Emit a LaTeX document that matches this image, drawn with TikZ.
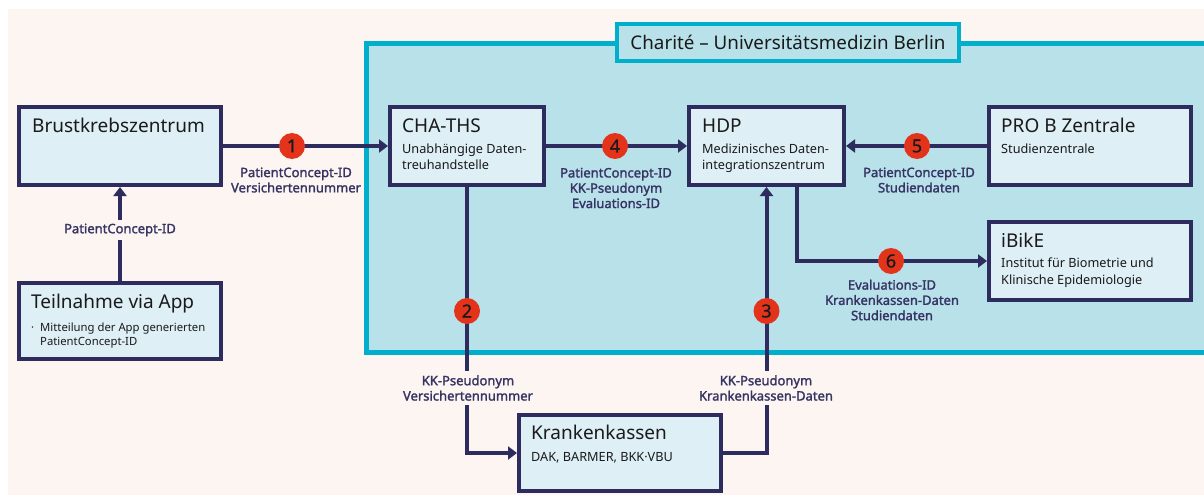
\documentclass[tikz,border=0pt]{standalone}
\usepackage{fontspec}
\setmainfont{Noto Sans}
\newfontfamily\lblfont{Noto Sans}[FakeBold=1.8]
\newfontfamily\numfont{Noto Sans}[FakeBold=0.8]
\usetikzlibrary{arrows.meta}
\definecolor{bgpink}{HTML}{FDF5F2}
\definecolor{chfill}{HTML}{B9E1EA}
\definecolor{chcyan}{HTML}{00AFCB}
\definecolor{boxfill}{HTML}{DEEFF6}
\definecolor{navy}{HTML}{2E2C5E}
\definecolor{navytext}{HTML}{363463}
\definecolor{badgered}{HTML}{E3341B}
\definecolor{ink}{HTML}{1A1A1A}
\begin{document}
\begin{tikzpicture}[x=1pt,y=-1pt,
  box/.style={draw=navy, line width=4pt, fill=boxfill, inner sep=0pt},
  ttl/.style={anchor=base west, inner sep=0pt, text=ink, font=\fontsize{19}{19}\selectfont},
  sub/.style={anchor=base west, inner sep=0pt, text=ink, font=\fontsize{12.7}{12.7}\selectfont},
  small/.style={anchor=base west, inner sep=0pt, text=ink, font=\fontsize{11.3}{11.3}\selectfont},
  conn/.style={draw=navy, line width=4pt},
  arr/.style={conn, -{Triangle[length=9pt,width=13pt]}},
  badge/.style={circle, fill=badgered, minimum size=26pt, inner sep=0pt, text=ink, font=\numfont\fontsize{18}{18}\selectfont},
  lbl/.style={text=navytext, align=center, inner sep=0pt, font=\lblfont\fontsize{13}{15.3}\selectfont},
  lblbg/.style={lbl, fill=bgpink, inner xsep=3pt, inner ysep=4pt}
]
\useasboundingbox (0,0) rectangle (1204,495);
\clip (0,0) rectangle (1204,495);
\fill[bgpink] (8,9) rectangle (1204,495);
% Charite region
\draw[draw=chcyan, fill=chfill, line width=5pt] (366,44) rectangle (1230,352);
\node[draw=chcyan, fill=chfill, line width=4pt, minimum width=342pt, minimum height=37pt, inner sep=0pt, text=ink, font=\fontsize{18.8}{18.8}\selectfont] (charite) at (788,42.5) {Charité -- Universitätsmedizin Berlin};

% boxes
\node[box, minimum width=202pt, minimum height=78pt] (bk) at (120,146) {};
\node[box, minimum width=202pt, minimum height=76pt] (app) at (120,321) {};
\node[box, minimum width=154pt, minimum height=78pt] (ths) at (467,146) {};
\node[box, minimum width=155pt, minimum height=78pt] (hdp) at (766.5,146) {};
\node[box, minimum width=202pt, minimum height=78pt] (prob) at (1090,146) {};
\node[box, minimum width=202pt, minimum height=78pt] (ibike) at (1090,261) {};
\node[box, minimum width=202pt, minimum height=76pt] (kk) at (620,453) {};

% box texts
\node[ttl] (bkT) at (32,132) {Brustkrebszentrum};
\node[ttl] (appT) at (31,308) {Teilnahme via App};
\node[small] (appB) at (31,331) {·};
\node[small] (appS1) at (40,331) {Mitteilung der App generierten};
\node[small] (appS2) at (40,345) {PatientConcept-ID};
\node[ttl] (thsT) at (402,132) {CHA-THS};
\node[sub] (thsS1) at (402,153) {Unabhängige Daten-};
\node[sub] (thsS2) at (402,169) {treuhandstelle};
\node[ttl] (hdpT) at (702,132) {HDP};
\node[sub] (hdpS1) at (702,153) {Medizinisches Daten-};
\node[sub] (hdpS2) at (702,169) {integrationszentrum};
\node[ttl] (probT) at (1001,132) {PRO B Zentrale};
\node[sub] (probS1) at (1001,153) {Studienzentrale};
\node[ttl] (ibikeT) at (1001,247) {iBikE};
\node[sub] (ibikeS1) at (1001,267) {Institut für Biometrie und};
\node[sub] (ibikeS2) at (1001,284) {Klinische Epidemiologie};
\node[ttl] (kkT) at (531,439) {Krankenkassen};
\node[sub] (kkS1) at (531,461) {DAK, BARMER, BKK·VBU};

% connectors
\coordinate (h6) at (797,187);
\draw[arr] (app.north) -- (bk.south);
\draw[arr] (bk.east) -- (ths.west);
\draw[arr] (ths.east) -- (hdp.west);
\draw[arr] (prob.west) -- (hdp.east);
\draw[arr] (h6) |- (ibike.west);
\draw[arr] (ths.south) |- (kk.west);
\draw[arr] (kk.east) -| (hdp.south);

% badges
\node[badge] (b1) at (292,146) {1};
\node[badge] (b2) at (467,311) {2};
\node[badge] (b3) at (766.5,311) {3};
\node[badge] (b4) at (615,146) {4};
\node[badge] (b5) at (917,146) {5};
\node[badge] (b6) at (891,261) {6};

% labels
\node[lblbg] (l0) at (120,230) {PatientConcept-ID};
\node[lbl] (l1) at (296,180) {PatientConcept-ID\\Versichertennummer};
\node[lbl] (l4) at (616,188) {PatientConcept-ID\\KK-Pseudonym\\Evaluations-ID};
\node[lbl] (l5) at (919,180) {PatientConcept-ID\\Studiendaten};
\node[lbl] (l6) at (892,300) {Evaluations-ID\\Krankenkassen-Daten\\Studiendaten};
\node[lblbg] (l2) at (468,388) {KK-Pseudonym\\Versichertennummer};
\node[lblbg] (l3) at (766,388) {KK-Pseudonym\\Krankenkassen-Daten};
\end{tikzpicture}
\end{document}
